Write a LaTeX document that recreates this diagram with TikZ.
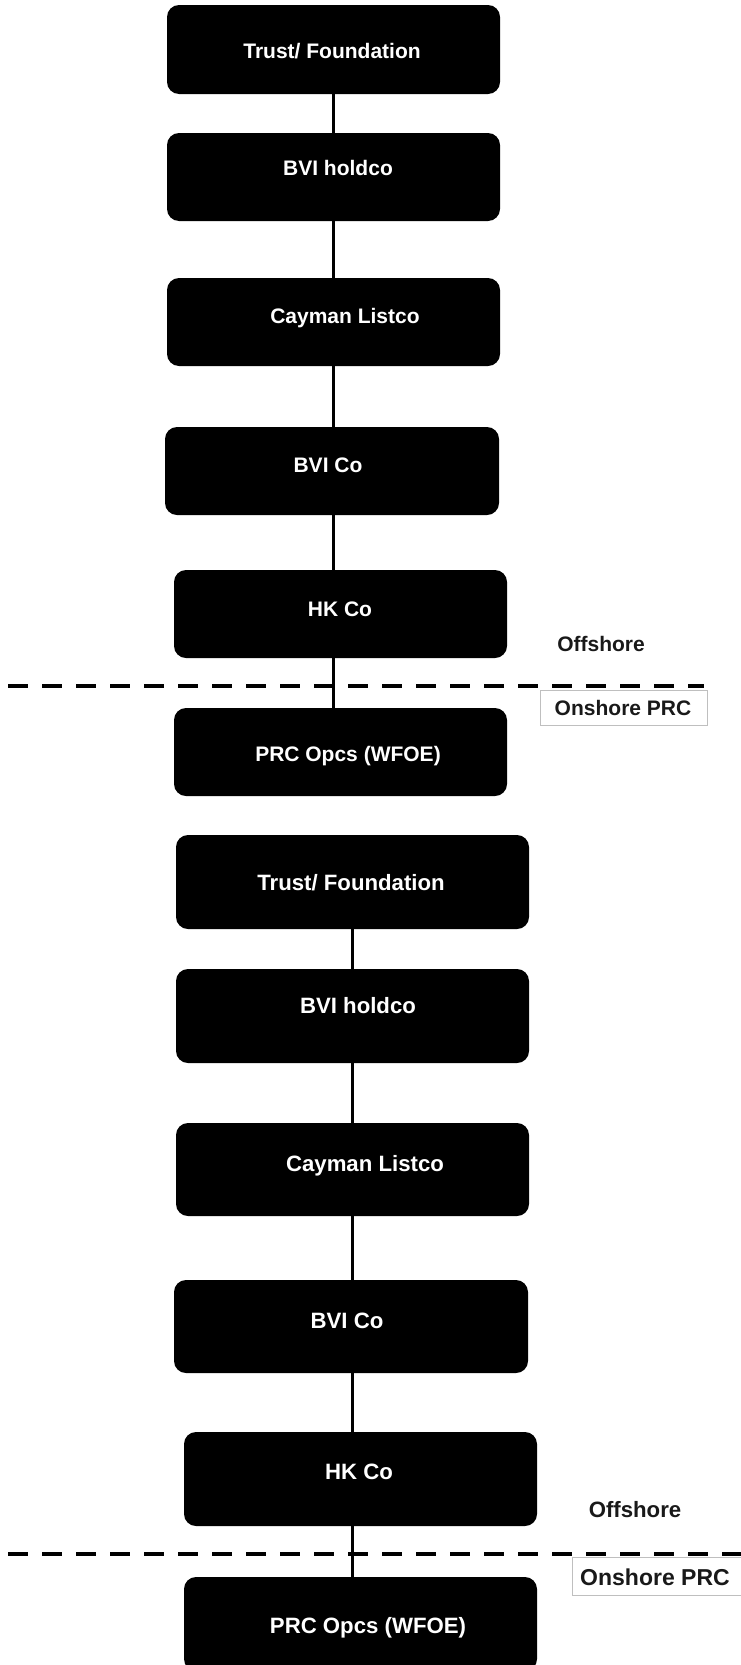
\documentclass[tikz,border=0pt]{standalone}
\usepackage{fontspec}
\setmainfont{Liberation Sans}
\begin{document}
\begin{tikzpicture}[x=1pt,y=-1pt,
  entity/.style={fill=black, draw=none, rounded corners=12pt, inner sep=0pt},
  lblA/.style={text=white, inner sep=0pt, font=\fontsize{21}{21}\selectfont\bfseries},
  lblB/.style={text=white, inner sep=0pt, font=\fontsize{22.2}{22}\selectfont\bfseries},
  link/.style={line width=3pt, black},
  divider/.style={line width=3.5pt, dash pattern=on 20pt off 14pt, black},
  zone/.style={inner sep=0pt, font=\fontsize{21}{21}\selectfont\bfseries, text=black!90},
  zonebox/.style={draw=black!25, line width=0.8pt, fill=white, inner sep=0pt}]
\clip (0,0) rectangle (741,1665);
\fill[white] (0,0) rectangle (741,1665);
% ---------- top chart ----------
\coordinate (spA) at (333,0);
\node[entity, minimum width=333pt, minimum height=89pt] (t1) at (333.5,49.5) {};
\node[entity, minimum width=333pt, minimum height=88pt] (t2) at (333.5,177) {};
\node[entity, minimum width=333pt, minimum height=88pt] (t3) at (333.5,322) {};
\node[entity, minimum width=334pt, minimum height=88pt] (t4) at (332,471) {};
\node[entity, minimum width=333pt, minimum height=88pt] (t5) at (340.5,614) {};
\node[entity, minimum width=333pt, minimum height=88pt] (t6) at (340.5,752) {};
\node[lblA] (t1l) at (332,51) {Trust/ Foundation};
\node[lblA] (t2l) at (338,168) {BVI holdco};
\node[lblA] (t3l) at (345,318) {Cayman Listco};
\node[lblA] (t4l) at (328,465) {BVI Co};
\node[lblA] (t5l) at (340,609) {HK Co};
\node[lblA] (t6l) at (348,756) {PRC Opcs (WFOE)};
\draw[link] (t1.south -| spA) -- (t2.north -| spA);
\draw[link] (t2.south -| spA) -- (t3.north -| spA);
\draw[link] (t3.south -| spA) -- (t4.north -| spA);
\draw[link] (t4.south -| spA) -- (t5.north -| spA);
\draw[link] (t5.south -| spA) -- (t6.north -| spA);
\coordinate (dA1) at (8,686);
\coordinate (dA2) at (704,686);
\draw[divider] (dA1) -- (dA2);
\node[zone] (offA) at (601,644) {Offshore};
\node[zonebox, minimum width=167pt, minimum height=35pt] (onAbox) at (623.5,707.5) {};
\node[zone] (onA) at (623,708) {Onshore PRC};
% ---------- bottom chart ----------
\coordinate (spB) at (352,0);
\node[entity, minimum width=353pt, minimum height=94pt] (b1) at (352.5,882) {};
\node[entity, minimum width=353pt, minimum height=94pt] (b2) at (352.5,1016) {};
\node[entity, minimum width=353pt, minimum height=93pt] (b3) at (352.5,1169.5) {};
\node[entity, minimum width=354pt, minimum height=93pt] (b4) at (351,1326.5) {};
\node[entity, minimum width=353pt, minimum height=94pt] (b5) at (360.5,1479) {};
\node[entity, minimum width=353pt, minimum height=94pt] (b6) at (360.5,1624) {};
\node[lblB] (b1l) at (351,883) {Trust/ Foundation};
\node[lblB] (b2l) at (358,1006) {BVI holdco};
\node[lblB] (b3l) at (365,1166) {Cayman Listco};
\node[lblB] (b4l) at (347,1321) {BVI Co};
\node[lblB] (b5l) at (359,1472) {HK Co};
\node[lblB] (b6l) at (368,1628) {PRC Opcs (WFOE)};
\draw[link] (b1.south -| spB) -- (b2.north -| spB);
\draw[link] (b2.south -| spB) -- (b3.north -| spB);
\draw[link] (b3.south -| spB) -- (b4.north -| spB);
\draw[link] (b4.south -| spB) -- (b5.north -| spB);
\draw[link] (b5.south -| spB) -- (b6.north -| spB);
\coordinate (dB1) at (8,1554);
\coordinate (dB2) at (745,1554);
\draw[divider] (dB1) -- (dB2);
\node[zone, font=\fontsize{22.2}{22}\selectfont\bfseries] (offB) at (635,1510) {Offshore};
\node[zonebox, minimum width=180pt, minimum height=38pt] (onBbox) at (662,1576) {};
\node[zone, font=\fontsize{23}{23}\selectfont\bfseries] (onB) at (655,1577) {Onshore PRC};
\end{tikzpicture}
\end{document}
